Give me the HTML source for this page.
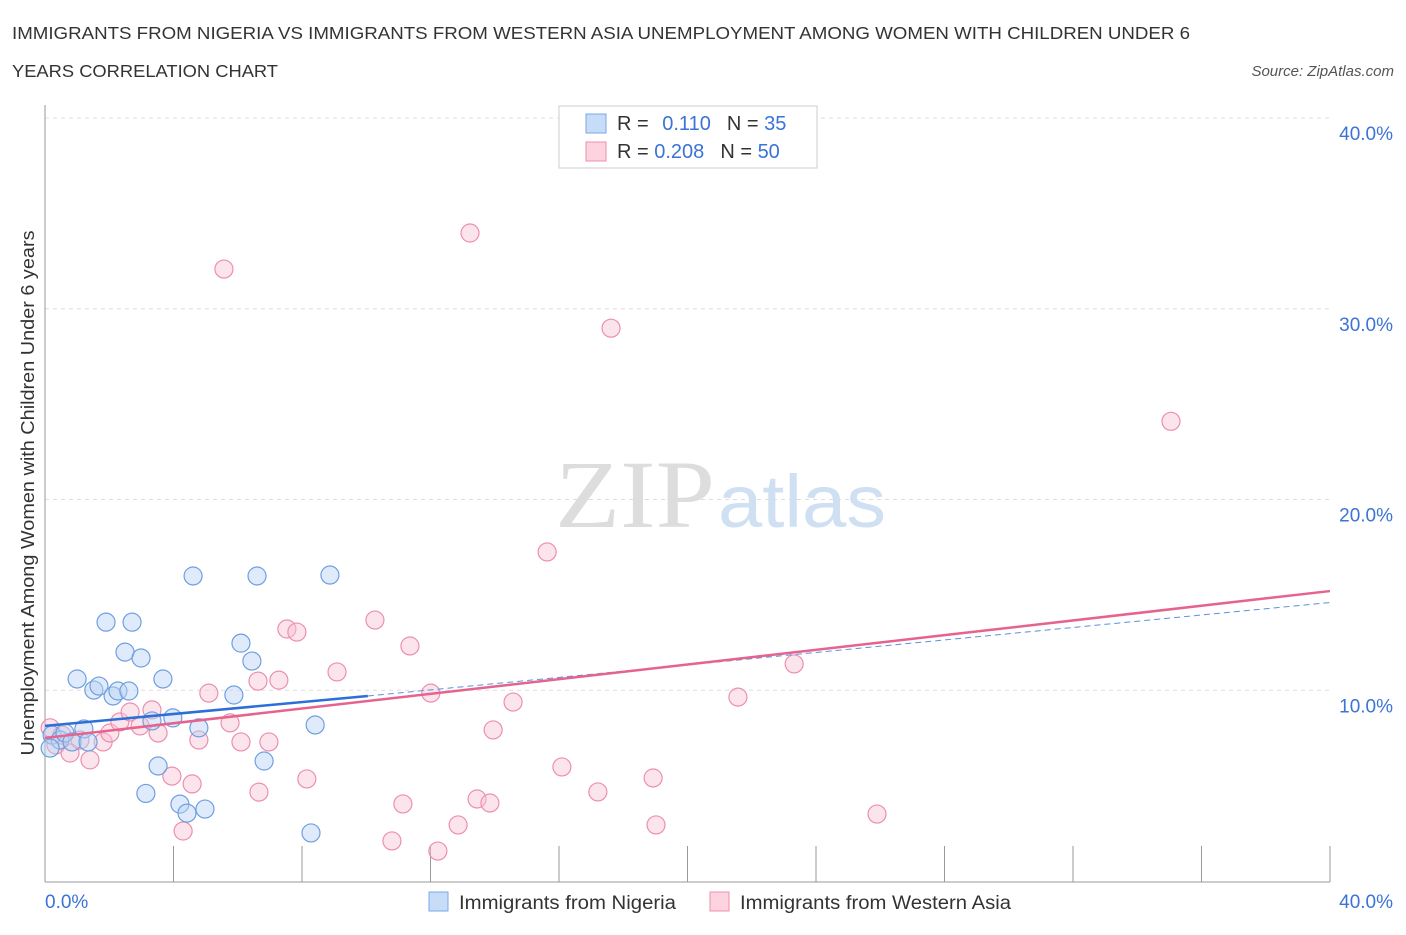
<!DOCTYPE html>
<html><head><meta charset="utf-8"><style>
body{margin:0;background:#fff;font-family:"Liberation Sans",sans-serif}
</style></head><body>
<svg width="1406" height="930" xmlns="http://www.w3.org/2000/svg">
<text x="12" y="39" font-size="17.5" fill="#333" textLength="1178" lengthAdjust="spacingAndGlyphs">IMMIGRANTS FROM NIGERIA VS IMMIGRANTS FROM WESTERN ASIA UNEMPLOYMENT AMONG WOMEN WITH CHILDREN UNDER 6</text>
<text x="12" y="77" font-size="17.5" fill="#333" textLength="266" lengthAdjust="spacingAndGlyphs">YEARS CORRELATION CHART</text>
<text x="1394" y="76" font-size="15" fill="#555" font-style="italic" text-anchor="end">Source: ZipAtlas.com</text>
<g id="grid"></g>
<text x="555" y="527" font-size="96" fill="#ddd" font-family="Liberation Serif" textLength="160" lengthAdjust="spacingAndGlyphs">ZIP</text>
<text x="718" y="527" font-size="74" fill="#cfe0f3" textLength="168" lengthAdjust="spacingAndGlyphs">atlas</text>
<g id="marks"></g>
<text transform="translate(34,493) rotate(-90)" font-size="18" fill="#333" text-anchor="middle" textLength="525" lengthAdjust="spacingAndGlyphs">Unemployment Among Women with Children Under 6 years</text>
<text x="45" y="908" font-size="19" fill="#3b73d6">0.0%</text>
<text x="1393" y="908" font-size="19" fill="#3b73d6" text-anchor="end">40.0%</text>
<g>
<rect x="559" y="106" width="258" height="62" fill="#fff" stroke="#ccc"/>
<rect x="586" y="114" width="20" height="19" fill="#c6dcf7" stroke="#7aa7e8"/>
<rect x="586" y="142" width="20" height="19" fill="#fcd3df" stroke="#f08fae"/>
<text x="617" y="130" font-size="20" fill="#333">R = <tspan fill="#3b73d6" dx="8">0.110</tspan><tspan dx="16">N = </tspan><tspan fill="#3b73d6">35</tspan></text>
<text x="617" y="158" font-size="20" fill="#333">R = <tspan fill="#3b73d6">0.208</tspan><tspan dx="16">N = </tspan><tspan fill="#3b73d6">50</tspan></text>
</g>
<g>
<rect x="429" y="892" width="19" height="19" fill="#c6dcf7" stroke="#7aa7e8"/>
<text x="459" y="909" font-size="19" fill="#333" textLength="217" lengthAdjust="spacingAndGlyphs">Immigrants from Nigeria</text>
<rect x="710" y="892" width="19" height="19" fill="#fcd3df" stroke="#f08fae"/>
<text x="740" y="909" font-size="19" fill="#333" textLength="271" lengthAdjust="spacingAndGlyphs">Immigrants from Western Asia</text>
</g>
</svg>
<script>
const yTicks=[10,20,30,40];
const xTicks=[0,4,8,12,16,20,24,28,32,36,40];
const nigeriaX=[0.22,0.47,0.62,0.84,1.0,1.21,1.34,1.52,1.68,1.9,2.12,2.27,2.49,2.61,2.71,2.99,3.14,3.33,3.52,3.67,3.98,4.2,4.42,4.61,4.79,4.98,5.88,6.1,6.44,6.6,6.82,8.28,8.41,8.87,0.16];
const nigeriaY=[7.65,7.39,7.76,7.29,10.59,7.97,7.29,10.01,10.22,13.57,9.7,9.96,12.0,9.96,13.57,11.69,4.59,8.39,6.03,10.59,8.55,4.03,3.56,15.99,8.03,3.77,9.75,12.47,11.53,15.99,6.29,2.52,8.18,16.04,6.97];
const asiaX=[0.16,0.34,0.53,0.78,1.09,1.4,1.81,2.02,2.33,2.65,2.96,3.33,3.52,3.95,4.3,4.58,4.79,5.1,5.57,5.76,6.1,6.63,6.66,6.97,7.28,7.53,7.84,8.15,9.09,10.27,10.8,11.14,11.36,12.01,12.23,12.86,13.23,13.45,13.85,13.95,14.57,15.63,16.09,17.21,17.62,18.93,19.02,21.57,23.32,25.9,35.05];
const asiaY=[8.03,7.13,7.65,6.71,7.39,6.35,7.29,7.76,8.34,8.86,8.13,8.97,7.76,5.5,2.62,5.09,7.39,9.85,32.08,8.29,7.29,10.48,4.66,7.29,10.53,13.21,13.05,5.35,10.96,13.68,2.1,4.04,12.32,9.85,1.57,2.94,33.97,4.3,4.09,7.92,9.38,17.25,5.98,4.67,28.98,5.4,2.94,9.64,11.38,3.51,24.1];
const W=document.querySelector('svg'),NS='http://www.w3.org/2000/svg';
const sx=v=>45+v*(1285/40), sy=v=>881-v*(763/40);
function mk(t,a,p){const e=document.createElementNS(NS,t);for(const k in a)e.setAttribute(k,a[k]);p.appendChild(e);return e;}
const g=document.getElementById('grid'),m=document.getElementById('marks');
yTicks.forEach(v=>{const l=mk('line',{x1:45,x2:1330,y1:sy(v),y2:sy(v),stroke:'#ddd','stroke-dasharray':'4,4'},g);


const t=mk('text',{x:1393,y:sy(v)+22,'font-size':19,fill:'#3b73d6','text-anchor':'end'},g);t.textContent=v.toFixed(1)+'%';

});
const ax=mk('line',{x1:45,x2:45,y1:105,y2:882,stroke:'#999'},g);


const bx=mk('line',{x1:45,x2:1330,y1:882,y2:882,stroke:'#999'},g);


xTicks.forEach(v=>{const l=mk('line',{x1:sx(v),x2:sx(v),y1:846,y2:882,stroke:'#999'},g);

});
function pts(X,Y,f,s,n){X.forEach((x,i)=>{const c=mk('circle',{cx:sx(x),cy:sy(Y[i]),r:9,fill:f,'fill-opacity':0.45,stroke:s,'stroke-width':1.2},m);

});}
pts(asiaX,asiaY,'#f9c3d4','#ec8fae','western-asia-point');
pts(nigeriaX,nigeriaY,'#b9d3f5','#6f9fe0','nigeria-point');
let l=mk('line',{x1:sx(0),y1:sy(8.13),x2:sx(10.05),y2:sy(9.7),stroke:'#2c6fd6','stroke-width':2.5},m);


l=mk('line',{x1:sx(10.05),y1:sy(9.7),x2:sx(40),y2:sy(14.6),stroke:'#5b8fe0','stroke-width':1,'stroke-dasharray':'6,4'},m);


l=mk('line',{x1:sx(0),y1:sy(7.5),x2:sx(40),y2:sy(15.2),stroke:'#e5638d','stroke-width':2.5},m);


</script>
</body></html>
